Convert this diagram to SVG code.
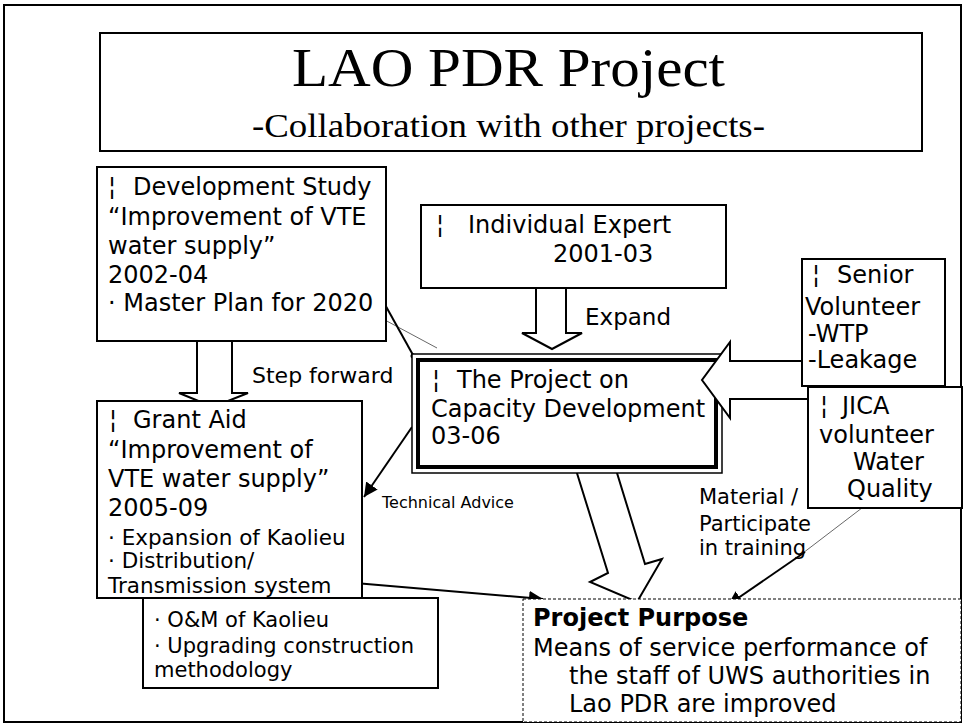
<svg xmlns="http://www.w3.org/2000/svg" width="963" height="724" viewBox="0 0 963 724">
<defs>
<style>
.box{fill:#fff;stroke:#000;stroke-width:2}
.t{font-family:"DejaVu Sans",Verdana,sans-serif;font-size:24px;fill:#000}
.s{font-size:21.5px}
.om{font-size:21px}
.mat{font-size:21px}
.blk{fill:#fff;stroke:#000;stroke-width:2;stroke-linejoin:miter}
.ln{fill:none;stroke:#000;stroke-width:2}
.hair{fill:none;stroke:#000;stroke-width:0.6}
.serif{font-family:"Liberation Serif","Times New Roman",serif;fill:#000}
</style>
<marker id="ah" viewBox="0 0 10 10" refX="10" refY="5" markerWidth="7" markerHeight="7" markerUnits="strokeWidth" orient="auto">
<path d="M0,0 L10,5 L0,10 z" fill="#000"/>
</marker>
</defs>
<rect x="0" y="0" width="963" height="724" fill="#fff"/>
<rect id="frame" x="4" y="5" width="957" height="717" fill="none" stroke="#000" stroke-width="2"/>

<g id="title">
<rect class="box" x="100" y="33" width="822" height="118"/>
<text class="serif" x="292" y="86" font-size="54" textLength="433" lengthAdjust="spacingAndGlyphs">LAO PDR Project</text>
<text class="serif" x="252" y="137" font-size="34" textLength="513" lengthAdjust="spacingAndGlyphs">-Collaboration with other projects-</text>
</g>

<g id="connectors">
<polygon class="blk" points="576,470 608,573 590,582 637,602 662,559 645,564 613,460"/>
<polygon class="blk" points="536,288 566,288 566,333 582,333 552,349 522,333 536,333"/>
<polygon class="blk" points="197,341 232,341 232,393 248,393 213,407 179,393 197,393"/>
<line class="hair" x1="370" y1="312" x2="437" y2="348"/>
<line class="ln" x1="413" y1="355" x2="373" y2="283" marker-end="url(#ah)"/>
<circle cx="413" cy="356" r="2.5" fill="#000"/>
<line class="ln" x1="412" y1="427" x2="364" y2="497" marker-end="url(#ah)"/>
<line class="ln" x1="355" y1="583" x2="543" y2="599" marker-end="url(#ah)"/>
<line class="hair" x1="875" y1="498" x2="803" y2="553"/>
<line class="ln" x1="805" y1="552" x2="728" y2="605" marker-end="url(#ah)"/>
</g>

<g id="dev-study">
<rect class="box" x="97" y="167" width="289" height="174"/>
<text class="t"><tspan x="108" y="195">¦</tspan><tspan x="133" y="195">Development Study</tspan></text>
<text class="t" x="108" y="225">“Improvement of VTE</text>
<text class="t" x="108" y="254">water supply”</text>
<text class="t" x="108" y="283">2002-04</text>
<text class="t" x="108" y="311">· Master Plan for 2020</text>
</g>

<g id="individual-expert">
<rect class="box" x="421" y="205" width="305" height="83"/>
<text class="t"><tspan x="436" y="233">¦</tspan><tspan x="468" y="233">Individual Expert</tspan></text>
<text class="t" x="553" y="262">2001-03</text>
</g>

<g id="grant-aid">
<rect class="box" x="97" y="401" width="265" height="197"/>
<text class="t"><tspan x="109" y="428">¦</tspan><tspan x="133" y="428">Grant Aid</tspan></text>
<text class="t" x="108" y="458">“Improvement of</text>
<text class="t" x="108" y="487">VTE water supply”</text>
<text class="t" x="108" y="516">2005-09</text>
<text class="t s" x="108" y="545">· Expansion of Kaolieu</text>
<text class="t s" x="108" y="568">· Distribution/</text>
<text class="t s" x="108" y="593">Transmission system</text>
</g>

<g id="om">
<rect class="box" x="143" y="598" width="295" height="90"/>
<text class="t om" x="154" y="627">· O&amp;M of Kaolieu</text>
<text class="t om" x="154" y="653">· Upgrading construction</text>
<text class="t om" x="154" y="677">methodology</text>
</g>

<g id="project">
<rect x="412" y="354" width="310" height="119" fill="#fff" stroke="#000" stroke-width="1.5"/>
<rect x="418" y="360" width="298" height="107" fill="none" stroke="#000" stroke-width="4"/>
<text class="t"><tspan x="432" y="388">¦</tspan><tspan x="457" y="388">The Project on</tspan></text>
<text class="t" x="431" y="417">Capacity Development</text>
<text class="t" x="431" y="444">03-06</text>
</g>

<g id="senior-arrow">
<polygon class="blk" points="805,361 730,361 730,342 702,380 730,418 730,399 810,399"/>
</g>

<g id="senior">
<rect class="box" x="802" y="259" width="143" height="127"/>
<text class="t"><tspan x="812" y="283">¦</tspan><tspan x="837" y="283">Senior</tspan></text>
<text class="t" x="805" y="315">Volunteer</text>
<text class="t" x="808" y="342">-WTP</text>
<text class="t" x="808" y="368">-Leakage</text>
</g>

<g id="jica">
<rect class="box" x="808" y="387" width="154" height="121"/>
<text class="t"><tspan x="820" y="414">¦</tspan><tspan x="842" y="414">JICA</tspan></text>
<text class="t" x="819" y="443">volunteer</text>
<text class="t" x="853" y="470">Water</text>
<text class="t" x="847" y="497">Quality</text>
</g>

<g id="purpose">
<rect x="523" y="599" width="438" height="123" fill="#fff" stroke="#000" stroke-width="1" stroke-dasharray="3,2"/>
<text class="t" x="533" y="626" font-weight="bold">Project Purpose</text>
<text class="t" x="533" y="656">Means of service performance of</text>
<text class="t" x="569" y="684">the staff of UWS authorities in</text>
<text class="t" x="569" y="712">Lao PDR are improved</text>
</g>

<g id="labels">
<text class="t" x="252" y="383" style="font-size:22px">Step forward</text>
<text class="t" x="585" y="325" style="font-size:23px">Expand</text>
<text class="t" x="382" y="508" style="font-size:16px">Technical Advice</text>
<text class="t mat" x="699" y="504">Material /</text>
<text class="t mat" x="699" y="531">Participate</text>
<text class="t mat" x="699" y="555">in training</text>
</g>
</svg>
